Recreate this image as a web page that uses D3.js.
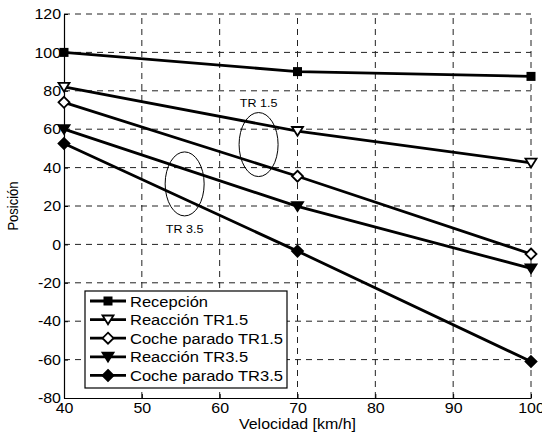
<!DOCTYPE html>
<html><head><meta charset="utf-8">
<script src="https://cdn.jsdelivr.net/npm/d3@7/dist/d3.min.js"></script>
<style>
html,body{margin:0;padding:0;background:#fff;}
svg{display:block;font-family:"Liberation Sans",Arial,sans-serif;}
</style></head>
<body>
<svg id="chart" width="542" height="432"></svg>
<script>
const velocidades = [40, 70, 100];
const recepcion = [100, 90, 87.5];
const reaccionTR15 = [82, 59, 42.5];
const cocheParadoTR15 = [74, 35.5, -5];
const reaccionTR35 = [60, 19.8, -12.5];
const cocheParadoTR35 = [52.5, -3.5, -61];
const xTicks = [40, 50, 60, 70, 80, 90, 100];
const yTicks = [-80, -60, -40, -20, 0, 20, 40, 60, 80, 100, 120];
const seriesNames = ["Recepción", "Reacción TR1.5", "Coche parado TR1.5", "Reacción TR3.5", "Coche parado TR3.5"];
const seriesValues = [recepcion, reaccionTR15, cocheParadoTR15, reaccionTR35, cocheParadoTR35];
const markerTypes = ["square", "triangleOpen", "diamondOpen", "triangle", "diamond"];
const annotations = [
  {label: "TR 1.5", v: 65, p: 52},
  {label: "TR 3.5", v: 55.5, p: 31.5}
];

const SX = 1.14; // horizontal stretch of the text glyphs
const svg = d3.select("#chart");
const L = 64, R = 531, T = 14, B = 398;
const x = d3.scaleLinear().domain([40, 100]).range([L, R]);
const y = d3.scaleLinear().domain([-80, 120]).range([B, T]);

function addText(parent, px, py, str, size, anchor) {
  return parent.append("text")
    .attr("transform", `translate(${px},${py}) scale(${SX},1)`)
    .attr("text-anchor", anchor || "start")
    .attr("font-size", size).attr("fill", "#000").text(str);
}

// grid
const grid = svg.append("g");
grid.selectAll(".gx").data(xTicks.slice(1)).enter().append("line")
  .attr("x1", d => x(d)).attr("x2", d => x(d)).attr("y1", B).attr("y2", T)
  .attr("stroke", "#222").attr("stroke-width", 1).attr("stroke-dasharray", "6,5");
grid.selectAll(".gy").data(yTicks.slice(1)).enter().append("line")
  .attr("x1", L).attr("x2", R).attr("y1", d => y(d)).attr("y2", d => y(d))
  .attr("stroke", "#222").attr("stroke-width", 1).attr("stroke-dasharray", "6,5");

// axes
const fmt = d => String(d);
const xAxis = d3.axisBottom(x).tickValues(xTicks).tickFormat(fmt).tickSizeInner(-4).tickSizeOuter(0);
const yAxis = d3.axisLeft(y).tickValues(yTicks).tickFormat(fmt).tickSizeInner(-4).tickSizeOuter(0);
const gx = svg.append("g").attr("transform", `translate(0,${B})`).call(xAxis);
const gy = svg.append("g").attr("transform", `translate(${L},0)`).call(yAxis);
[gx, gy].forEach(g => {
  g.select(".domain").attr("stroke", "#000").attr("stroke-width", 1.2);
  g.selectAll(".tick line").attr("stroke", "#000");
  g.selectAll(".tick text").attr("fill", "#000").attr("font-size", 14)
   .attr("font-family", "'Liberation Sans',Arial,sans-serif");
});
gx.selectAll(".tick text").attr("y", 0).attr("dy", null)
  .attr("transform", `translate(0,15) scale(${SX},1)`);
gy.selectAll(".tick text").attr("x", 0).attr("dy", "0.34em")
  .attr("transform", `translate(-3,0) scale(${SX},1)`);

// lines
const line = d3.line().x((d, i) => x(velocidades[i])).y(d => y(d));
function drawMarker(g, type, cx, cy) {
  if (type === "square") {
    g.append("rect").attr("x", cx - 4.5).attr("y", cy - 4.5).attr("width", 9).attr("height", 9).attr("fill", "#000");
  } else if (type === "triangleOpen" || type === "triangle") {
    const s = 5.5;
    g.append("path").attr("d", `M${cx - s},${cy - s * 0.75}L${cx + s},${cy - s * 0.75}L${cx},${cy + s * 0.85}Z`)
      .attr("fill", type === "triangle" ? "#000" : "#fff").attr("stroke", "#000").attr("stroke-width", 1.8);
  } else {
    const s = 5.5;
    g.append("path").attr("d", `M${cx},${cy - s}L${cx + s},${cy}L${cx},${cy + s}L${cx - s},${cy}Z`)
      .attr("fill", type === "diamond" ? "#000" : "#fff").attr("stroke", "#000").attr("stroke-width", 1.8);
  }
}
seriesValues.forEach((vals, si) => {
  svg.append("path").datum(vals).attr("d", line)
    .attr("fill", "none").attr("stroke", "#000").attr("stroke-width", 2.8);
  const mg = svg.append("g");
  vals.forEach((v, i) => drawMarker(mg, markerTypes[si], x(velocidades[i]), y(v)));
});

// annotations
annotations.forEach(a => {
  svg.append("ellipse").attr("cx", x(a.v)).attr("cy", y(a.p)).attr("rx", 19.5).attr("ry", 32)
    .attr("fill", "none").attr("stroke", "#000").attr("stroke-width", 1);
});
addText(svg, x(annotations[0].v), y(annotations[0].p) - 38, annotations[0].label, 11, "middle");
addText(svg, x(annotations[1].v), y(annotations[1].p) + 49, annotations[1].label, 11, "middle");

// axis labels
addText(svg, x(70), 429, "Velocidad [km/h]", 14, "middle");
svg.append("text").attr("transform", `translate(18,${y(20)}) rotate(-90) scale(1,${SX})`)
  .attr("text-anchor", "middle").attr("font-size", 13).attr("fill", "#000").text("Posición");

// legend
const lg = svg.append("g");
lg.append("rect").attr("x", 85).attr("y", 291).attr("width", 202).attr("height", 97)
  .attr("fill", "#fff").attr("stroke", "#000").attr("stroke-width", 1.2);
seriesNames.forEach((name, i) => {
  const cy = 301 + i * 18.6;
  lg.append("line").attr("x1", 90).attr("x2", 126).attr("y1", cy).attr("y2", cy)
    .attr("stroke", "#000").attr("stroke-width", 2.8);
  drawMarker(lg, markerTypes[i], 108, cy);
  addText(lg, 130, cy + 5.5, name, 14.5, "start");
});
</script>
</body></html>
